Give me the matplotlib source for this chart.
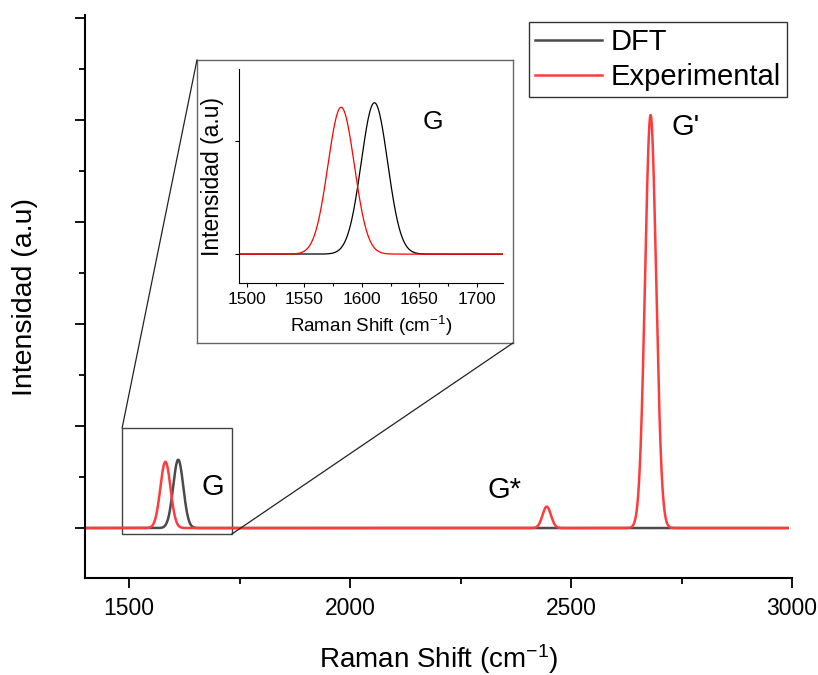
import matplotlib

matplotlib.use("Agg")
import matplotlib.pyplot as plt
import numpy as np
from matplotlib.patches import ConnectionPatch, Rectangle

plt.rcParams["font.family"] = ["Liberation Sans", "DejaVu Sans"]
plt.rcParams["mathtext.fontset"] = "custom"
plt.rcParams["mathtext.rm"] = "Liberation Sans"
plt.rcParams["mathtext.it"] = "Liberation Sans:italic"

# peak parameters (center cm-1, height a.u., sigma cm-1)
DFT_CENTERS = [1611]
DFT_HEIGHTS = [0.67]
DFT_SIGMAS = [11.5]
EXP_CENTERS = [1582, 2445, 2680]
EXP_HEIGHTS = [0.65, 0.21, 4.05]
EXP_SIGMAS = [11.5, 9.5, 12.5]
SHIFT_RANGE = (1400, 2990)

PEAK_LABELS = ["G", "G*", "G'"]
PEAK_LABEL_POS = [(1690, 0.40), (2350, 0.37), (2760, 3.93)]


def spectrum(x, centers, heights, sigmas):
    y = np.zeros_like(x)
    for c, h, s in zip(centers, heights, sigmas):
        y += h * np.exp(-0.5 * ((x - c) / s) ** 2)
    return y


x = np.linspace(*SHIFT_RANGE, 4000)
y_dft = spectrum(x, DFT_CENTERS, DFT_HEIGHTS, DFT_SIGMAS)
y_exp = spectrum(x, EXP_CENTERS, EXP_HEIGHTS, EXP_SIGMAS)

fig = plt.figure(figsize=(8.18, 6.75), dpi=100)
ax = fig.add_axes([0.1039, 0.1437, 0.8643, 0.834])
ax.plot(x, y_dft, color="#4a4a4a", lw=1.8, label="DFT")
ax.plot(x, y_exp, color="#ff3b3b", lw=1.8, label="Experimental")
ax.set_xlim(1400, 3000)
ax.set_ylim(-0.49, 5.03)
ax.set_xticks([1500, 2000, 2500, 3000])
ax.set_xticks([1750, 2250, 2750], minor=True)
ax.set_yticks(range(6))
ax.set_yticks(np.arange(0.5, 5, 1.0), minor=True)
ax.set_yticklabels([])
for side in ("top", "right"):
    ax.spines[side].set_visible(False)
for side in ("left", "bottom"):
    ax.spines[side].set_linewidth(1.5)
ax.tick_params(which="major", direction="out", length=7, width=1.3, labelsize=16.5, pad=7)
ax.tick_params(which="minor", direction="out", length=4, width=1.3)
ax.set_xlabel(r"Raman Shift (cm$^{-1}$)", fontsize=20, labelpad=16)
ax.set_ylabel("Intensidad (a.u)", fontsize=20.5, labelpad=20)

for text, (tx, ty) in zip(PEAK_LABELS, PEAK_LABEL_POS):
    ax.text(tx, ty, text, fontsize=21, ha="center", va="center")

ax.legend(
    loc="upper right",
    bbox_to_anchor=(787 / 818, 1 - 22 / 675),
    bbox_transform=fig.transFigure,
    fontsize=21,
    frameon=True,
    fancybox=False,
    edgecolor="#333333",
    framealpha=1,
    handlelength=2.3,
    handletextpad=0.3,
    labelspacing=0.25,
    borderpad=0.2,
    borderaxespad=0,
)

# zoom box on the G band
box_x = (1484, 1732)
box_y = (-0.06, 0.98)
ax.add_patch(
    Rectangle(
        (box_x[0], box_y[0]),
        box_x[1] - box_x[0],
        box_y[1] - box_y[0],
        fill=False,
        edgecolor="#444444",
        lw=1.0,
    )
)

frame = fig.add_axes([0.2408, 0.4919, 0.3863, 0.4193])
frame.set_xticks([])
frame.set_yticks([])
frame.patch.set_facecolor("white")
for sp in frame.spines.values():
    sp.set_color("#666666")
    sp.set_linewidth(1.0)

for xy_main, xy_frame in (((box_x[0], box_y[1]), (0, 1)), ((box_x[1], box_y[0]), (1, 0))):
    fig.add_artist(
        ConnectionPatch(
            xyA=xy_main, coordsA=ax.transData,
            xyB=xy_frame, coordsB=frame.transAxes,
            color="#222222", lw=0.9,
        )
    )

ins = fig.add_axes([0.2922, 0.5807, 0.3227, 0.317])
ins.plot(x, y_dft, color="black", lw=0.9)
ins.plot(x, y_exp, color="#ff0000", lw=0.9)
ins.set_xlim(1493, 1723)
ins.set_ylim(-0.128, 0.819)
ins.set_xticks([1500, 1550, 1600, 1650, 1700])
ins.set_xticks([1525, 1575, 1625, 1675], minor=True)
ins.set_yticks([0, 0.5])
ins.set_yticklabels([])
for side in ("top", "right"):
    ins.spines[side].set_visible(False)
ins.tick_params(which="major", direction="out", length=3, width=0.8, labelsize=12.5)
ins.tick_params(which="minor", direction="out", length=2, width=0.8)
ins.set_xlabel(r"Raman Shift (cm$^{-1}$)", fontsize=13.5, labelpad=5)
ins.set_ylabel("Intensidad (a.u)", fontsize=16.5, labelpad=4)
ins.text(1662, 0.584, "G", fontsize=19, ha="center", va="center")

fig.savefig("out.png", dpi=100)
